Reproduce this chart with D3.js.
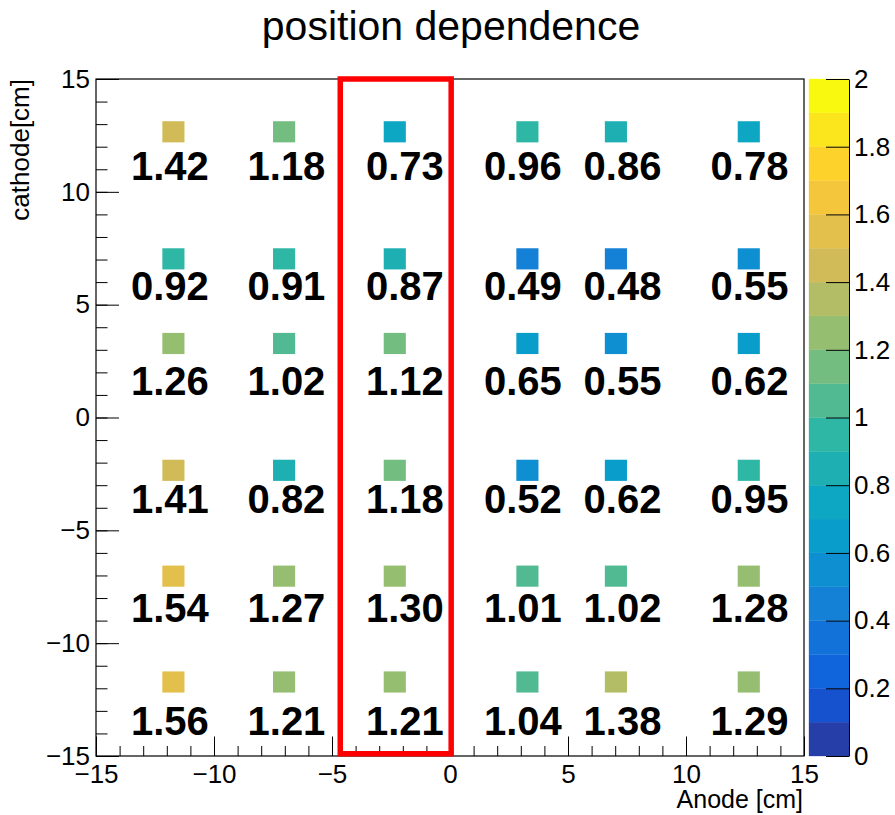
<!DOCTYPE html>
<html><head><meta charset="utf-8">
<script src="https://cdn.jsdelivr.net/npm/d3@7"></script>
<style>
body{margin:0;background:#fff}
svg{display:block}
text{font-family:"Liberation Sans",Arial,Helvetica,sans-serif;fill:#000}
</style>
</head><body>
<svg id="c" width="895" height="815"></svg>
<script>
// ---- data ----
const binCentersX = [-11.72, -7.03, -2.34, 3.28, 7.03, 12.66];
const binCentersY = [12.66, 7.03, 3.28, -2.34, -7.03, -11.72];
const labelX = [-11.87, -6.93, -1.91, 3.09, 7.31, 12.69];
const labelY = [10.51, 5.22, 1.01, -4.23, -9.06, -14.05];
const values = [
  [1.42, 1.18, 0.73, 0.96, 0.86, 0.78],
  [0.92, 0.91, 0.87, 0.49, 0.48, 0.55],
  [1.26, 1.02, 1.12, 0.65, 0.55, 0.62],
  [1.41, 0.82, 1.18, 0.52, 0.62, 0.95],
  [1.54, 1.27, 1.296, 1.01, 1.02, 1.28],
  [1.56, 1.21, 1.21, 1.04, 1.38, 1.29]
];
const binWidth = 0.9375;
const xTicks = [-15, -10, -5, 0, 5, 10, 15];
const yTicks = [-15, -10, -5, 0, 5, 10, 15];
const zTicks = [0, 0.2, 0.4, 0.6, 0.8, 1, 1.2, 1.4, 1.6, 1.8, 2];
const zLabels = ["0", "0.2", "0.4", "0.6", "0.8", "1", "1.2", "1.4", "1.6", "1.8", "2"];
const highlightBox = {x0: -4.65, x1: 0.05, y0: -14.9, y1: 15};
const titleText = "position dependence";
const xTitle = "Anode [cm]";
const yTitle = "cathode[cm]";
// kBird palette stops
const stops = [0.0, 0.125, 0.25, 0.375, 0.5, 0.625, 0.75, 0.875, 1.0];
const red   = [0.2082, 0.0592, 0.0780, 0.0232, 0.1802, 0.5301, 0.8186, 0.9956, 0.9764];
const green = [0.1664, 0.3599, 0.5041, 0.6419, 0.7178, 0.7492, 0.7328, 0.7862, 0.9832];
const blue  = [0.5293, 0.8684, 0.8385, 0.7914, 0.6425, 0.4662, 0.3499, 0.1968, 0.0539];
const nContours = 20, zMin = 0, zMax = 2;

// ---- palette (ROOT gradient) ----
const NCOL = 255;
const pal = [];
for (let g = 1; g < stops.length; g++) {
  const n = Math.floor(NCOL * stops[g]) - Math.floor(NCOL * stops[g - 1]);
  for (let c = 0; c < n; c++) {
    const r = red[g - 1] + c * (red[g] - red[g - 1]) / n;
    const gg = green[g - 1] + c * (green[g] - green[g - 1]) / n;
    const b = blue[g - 1] + c * (blue[g] - blue[g - 1]) / n;
    pal.push(d3.rgb(r * 255, gg * 255, b * 255).formatHex());
  }
}
function bandColor(i) {
  const idx = Math.min(pal.length - 1, Math.floor((i + 0.99) * pal.length / nContours));
  return pal[idx];
}
function valueColor(v) {
  let i = Math.floor(0.01 + (v - zMin) * nContours / (zMax - zMin));
  i = Math.max(0, Math.min(nContours - 1, i));
  return bandColor(i);
}

// ---- layout ----
const svg = d3.select("#c");
const x = d3.scaleLinear().domain([-15, 15]).range([96, 804]);
const y = d3.scaleLinear().domain([-15, 15]).range([756, 79]);
const z = d3.scaleLinear().domain([zMin, zMax]).range([756, 79]);
const cbX0 = 809, cbX1 = 849;
const fmt = v => (v < 0 ? "\u2212" + Math.abs(v) : String(v));

// title
svg.append("text").attr("x", 451).attr("y", 40).attr("text-anchor", "middle")
  .style("font-size", "41px").text(titleText);

// bins
const cells = [];
values.forEach((row, ri) => row.forEach((v, ci) => cells.push({v, ri, ci})));
svg.append("g").selectAll("rect").data(cells).join("rect")
  .attr("x", d => x(binCentersX[d.ci] - binWidth / 2))
  .attr("y", d => y(binCentersY[d.ri] + binWidth / 2))
  .attr("width", d => x(binCentersX[d.ci] + binWidth / 2) - x(binCentersX[d.ci] - binWidth / 2))
  .attr("height", d => y(binCentersY[d.ri] - binWidth / 2) - y(binCentersY[d.ri] + binWidth / 2))
  .attr("fill", d => valueColor(d.v));

// value labels
svg.append("g").selectAll("text").data(cells).join("text")
  .attr("x", d => x(labelX[d.ci]))
  .attr("y", d => y(labelY[d.ri]))
  .attr("text-anchor", "middle")
  .style("font-size", "40px").style("font-weight", "bold")
  .text(d => d.v.toFixed(2));

// axes
const xAxisG = svg.append("g").attr("transform", `translate(0,${y(-15)})`);
xAxisG.call(d3.axisBottom(x).tickValues(d3.range(-15, 16, 1)).tickSizeInner(-10).tickSizeOuter(0).tickFormat(""));
xAxisG.call(g => g.select(".domain").remove());
const xMajor = svg.append("g").attr("transform", `translate(0,${y(-15)})`)
  .call(d3.axisBottom(x).tickValues(xTicks).tickSizeInner(-19.5).tickSizeOuter(0).tickPadding(9).tickFormat(fmt));
xMajor.select(".domain").remove();
xMajor.selectAll("text").style("font-size", "26px").style("font-family", "'Liberation Sans',Arial,sans-serif");

const yAxisG = svg.append("g").attr("transform", `translate(${x(-15)},0)`);
yAxisG.call(d3.axisLeft(y).tickValues(d3.range(-15, 16, 1)).tickSizeInner(-11.5).tickSizeOuter(0).tickFormat(""));
yAxisG.call(g => g.select(".domain").remove());
const yMajor = svg.append("g").attr("transform", `translate(${x(-15)},0)`)
  .call(d3.axisLeft(y).tickValues(yTicks).tickSizeInner(-23).tickSizeOuter(0).tickPadding(6).tickFormat(fmt));
yMajor.select(".domain").remove();
yMajor.selectAll("text").style("font-size", "26px").style("font-family", "'Liberation Sans',Arial,sans-serif");

svg.selectAll(".tick line").attr("stroke", "#000").attr("stroke-width", 1);

// frame
svg.append("rect").attr("x", x(-15)).attr("y", y(15))
  .attr("width", x(15) - x(-15)).attr("height", y(-15) - y(15))
  .attr("fill", "none").attr("stroke", "#000").attr("stroke-width", 1.2);

// highlight box
svg.append("rect")
  .attr("x", x(highlightBox.x0)).attr("y", y(highlightBox.y1))
  .attr("width", x(highlightBox.x1) - x(highlightBox.x0))
  .attr("height", y(highlightBox.y0) - y(highlightBox.y1))
  .attr("fill", "none").attr("stroke", "#ff0000").attr("stroke-width", 5.5);

// color bar
const bands = d3.range(nContours);
const step = (zMax - zMin) / nContours;
svg.append("g").selectAll("rect").data(bands).join("rect")
  .attr("x", cbX0).attr("width", cbX1 - cbX0)
  .attr("y", i => z(zMin + (i + 1) * step))
  .attr("height", i => z(zMin + i * step) - z(zMin + (i + 1) * step))
  .attr("fill", i => bandColor(i)).attr("stroke", i => bandColor(i)).attr("stroke-width", 0.3);
const zAxis = svg.append("g").attr("transform", `translate(${cbX1},0)`)
  .call(d3.axisRight(z).tickValues(zTicks).tickSizeInner(-23).tickSizeOuter(0).tickPadding(5)
    .tickFormat((d, i) => zLabels[i]));
zAxis.select(".domain").attr("stroke", "#000").attr("stroke-width", 1);
zAxis.selectAll(".tick line").attr("stroke", "#000").attr("stroke-width", 1);
zAxis.selectAll("text").style("font-size", "26px").style("font-family", "'Liberation Sans',Arial,sans-serif");

// axis titles
svg.append("text").attr("x", 803).attr("y", 808).attr("text-anchor", "end")
  .style("font-size", "25px").text(xTitle);
svg.append("text").attr("transform", "translate(29,79) rotate(-90)").attr("text-anchor", "end")
  .style("font-size", "26px").text(yTitle);
</script>
</body></html>
